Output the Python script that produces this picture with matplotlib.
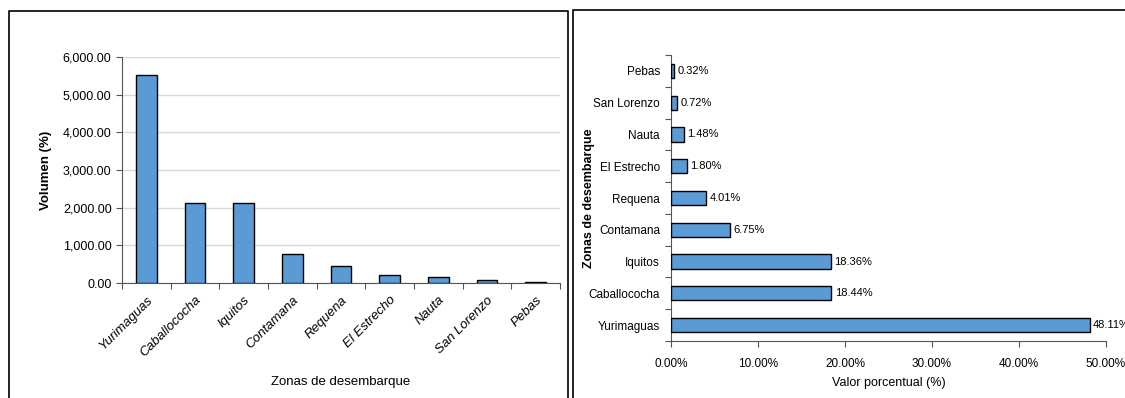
import matplotlib.pyplot as plt
from matplotlib.lines import Line2D
from matplotlib.ticker import FuncFormatter

plt.rcParams['font.family'] = ['Liberation Sans', 'DejaVu Sans']

# data
zonas = ['Yurimaguas', 'Caballococha', 'Iquitos', 'Contamana', 'Requena',
         'El Estrecho', 'Nauta', 'San Lorenzo', 'Pebas']
volumen = [5530, 2120, 2111, 776, 461, 207, 170, 83, 37]
porcentaje = [48.11, 18.44, 18.36, 6.75, 4.01, 1.80, 1.48, 0.72, 0.32]
y_ticks = [0, 1000, 2000, 3000, 4000, 5000, 6000]
x_ticks = [0, 10, 20, 30, 40, 50]

bar_color = '#5B9BD5'

fig = plt.figure(figsize=(11.25, 3.98), dpi=100)
W, H = 1125, 398

# panel frames
def frame(x0, x1, y0, y1):
    xs = [x0 / W, x0 / W, x1 / W, x1 / W]
    ys = [1 - y1 / H, 1 - y0 / H, 1 - y0 / H, 1 - y1 / H]
    fig.add_artist(Line2D(xs, ys, color='black', lw=1.2, transform=fig.transFigure))

frame(9, 568, 11, 400)
frame(573, 1130, 10, 400)

# left: vertical bars
ax1 = fig.add_axes([122 / W, 1 - 283 / H, (560 - 122) / W, (283 - 57) / H])
ax1.bar(range(len(zonas)), volumen, width=0.42, color=bar_color,
        edgecolor='black', linewidth=1, zorder=3)
ax1.set_ylim(0, 6000)
ax1.set_xlim(-0.5, len(zonas) - 0.5)
ax1.set_yticks(y_ticks)
ax1.yaxis.set_major_formatter(FuncFormatter(lambda v, p: f'{v:,.2f}'))
ax1.set_xticks([i - 0.5 for i in range(len(zonas) + 1)], minor=False)
ax1.set_xticklabels([])
ax1.set_xticks(range(len(zonas)), minor=True)
ax1.set_xticklabels(zonas, minor=True, rotation=45, ha='right',
                    rotation_mode='anchor', style='italic', fontsize=9.5)
ax1.tick_params(axis='x', which='minor', length=0, pad=8)
ax1.tick_params(axis='x', which='major', length=4, color='#555555')
ax1.tick_params(axis='y', labelsize=9, length=4, color='#555555')
ax1.grid(axis='y', color='#d9d9d9', lw=1, zorder=0)
for s in ['top', 'right']:
    ax1.spines[s].set_visible(False)
ax1.spines['left'].set_color('#555555')
ax1.spines['bottom'].set_color('#555555')
ax1.set_ylabel('Volumen (%)', fontsize=9.5, fontweight='bold', labelpad=8)
ax1.set_xlabel('Zonas de desembarque', fontsize=9.5, labelpad=12)

# right: horizontal bars
ax2 = fig.add_axes([671 / W, 1 - 341 / H, (1106 - 671) / W, (341 - 55) / H])
ax2.barh(range(len(zonas)), porcentaje, height=0.45, color=bar_color,
         edgecolor='black', linewidth=1, zorder=3)
for i, p in enumerate(porcentaje):
    ax2.text(p + 0.4, i, f'{p:.2f}%', va='center', ha='left', fontsize=8)
ax2.set_xlim(0, 50)
ax2.set_ylim(-0.5, len(zonas) - 0.5)
ax2.set_xticks(x_ticks)
ax2.xaxis.set_major_formatter(FuncFormatter(lambda v, p: f'{v:.2f}%'))
ax2.set_yticks([i - 0.5 for i in range(len(zonas) + 1)])
ax2.set_yticklabels([])
ax2.set_yticks(range(len(zonas)), minor=True)
ax2.set_yticklabels(zonas, minor=True, fontsize=8.5)
ax2.tick_params(axis='y', which='minor', length=0, pad=8)
ax2.tick_params(axis='y', which='major', length=4, color='#555555')
ax2.tick_params(axis='x', labelsize=8.5, length=4, color='#555555', pad=8)
for s in ['top', 'right']:
    ax2.spines[s].set_visible(False)
ax2.spines['left'].set_color('#555555')
ax2.spines['bottom'].set_color('#555555')
ax2.set_xlabel('Valor porcentual (%)', fontsize=9, labelpad=5)
ax2.set_ylabel('Zonas de desembarque', fontsize=9, fontweight='bold')
ax2.yaxis.set_label_coords(-0.175, 0.5)

fig.savefig('out.png', dpi=100)
